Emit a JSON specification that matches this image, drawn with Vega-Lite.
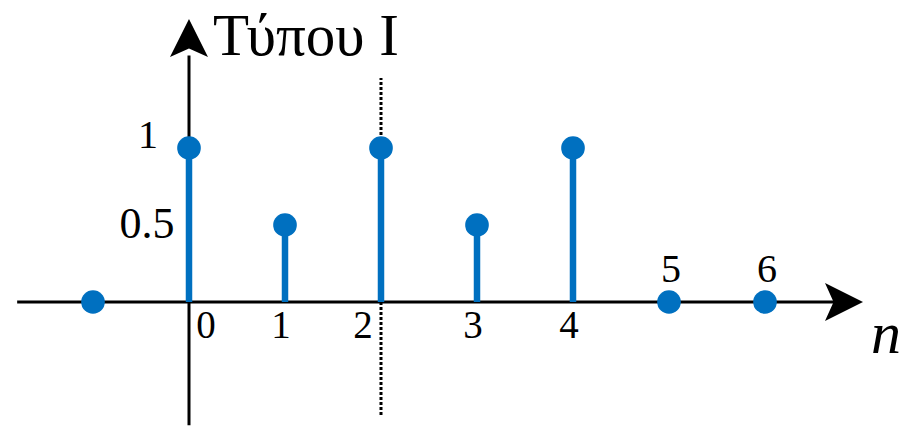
{
  "$schema": "https://vega.github.io/schema/vega-lite/v6.json",
  "width": 914,
  "height": 433,
  "autosize": {"type": "fit", "contains": "padding"},
  "padding": 0,
  "background": "white",
  "config": {"view": {"stroke": null}},
  "datasets": {
    "samples": [
      {"n": -1, "v": 0},
      {"n": 0, "v": 1},
      {"n": 1, "v": 0.5},
      {"n": 2, "v": 1},
      {"n": 3, "v": 0.5},
      {"n": 4, "v": 1},
      {"n": 5, "v": 0},
      {"n": 6, "v": 0}
    ],
    "axes": [
      {"n": -1.79, "n2": 6.73, "v": 0, "v2": 0},
      {"n": 0, "n2": 0, "v": -0.8, "v2": 1.6}
    ],
    "marker": [
      {"n": 2, "n2": 2, "v": -0.734, "v2": 1.4545}
    ],
    "heads": [
      {"n": 6.823, "v": 0, "dir": "right"},
      {"n": 0, "v": 1.714, "dir": "up"}
    ],
    "nlabels": [
      {"n": 0, "v": 0, "label": "0"},
      {"n": 1, "v": 0, "label": "1"},
      {"n": 2, "v": 0, "label": "2"},
      {"n": 3, "v": 0, "label": "3"},
      {"n": 4, "v": 0, "label": "4"},
      {"n": 5, "v": 0, "label": "5"},
      {"n": 6, "v": 0, "label": "6"}
    ],
    "vlabels": [
      {"n": 0, "v": 1, "label": "1"},
      {"n": 0, "v": 0.5, "label": "0.5"}
    ],
    "names": [
      {"n": 0, "v": 1.604, "label": "Τύπου Ι", "kind": "title"},
      {"n": 7.26, "v": -0.331, "label": "n", "kind": "var"}
    ]
  },
  "encoding": {
    "x": {"field": "n", "type": "quantitative", "axis": null,
          "scale": {"domain": [-1.96875, 7.5521], "nice": false, "zero": false}},
    "y": {"field": "v", "type": "quantitative", "axis": null,
          "scale": {"domain": [-0.8506, 1.961], "nice": false, "zero": false}}
  },
  "layer": [
    {
      "data": {"name": "axes"},
      "mark": {"type": "rule", "color": "black", "strokeWidth": 3},
      "encoding": {
        "x2": {"field": "n2"},
        "y2": {"field": "v2"}
      }
    },
    {
      "data": {"name": "marker"},
      "mark": {"type": "rule", "color": "black", "strokeWidth": 3, "strokeDash": [3, 2]},
      "encoding": {
        "x2": {"field": "n2"},
        "y2": {"field": "v2"}
      }
    },
    {
      "data": {"name": "heads"},
      "transform": [{"filter": "datum.dir === 'right'"}],
      "mark": {"type": "point", "filled": true, "color": "black", "opacity": 1,
               "shape": "M1,0L-1,-1L-0.55,0L-1,1Z", "size": 1444},
      "encoding": {}
    },
    {
      "data": {"name": "heads"},
      "transform": [{"filter": "datum.dir === 'up'"}],
      "mark": {"type": "point", "filled": true, "color": "black", "opacity": 1,
               "shape": "M0,-1L1,1L0,0.55L-1,1Z", "size": 1444},
      "encoding": {}
    },
    {
      "data": {"name": "samples"},
      "mark": {"type": "rule", "color": "#0070C0", "strokeWidth": 6.5},
      "encoding": {
        "y2": {"datum": 0}
      }
    },
    {
      "data": {"name": "samples"},
      "mark": {"type": "point", "filled": true, "shape": "circle", "color": "#0070C0", "opacity": 1, "size": 560},
      "encoding": {}
    },
    {
      "data": {"name": "nlabels"},
      "transform": [{"filter": "datum.n === 0"}],
      "mark": {"type": "text", "font": "Liberation Serif", "fontSize": 39, "color": "black",
               "align": "center", "baseline": "alphabetic", "dx": 17, "dy": 36},
      "encoding": {"text": {"field": "label"}}
    },
    {
      "data": {"name": "nlabels"},
      "transform": [{"filter": "datum.n === 2"}],
      "mark": {"type": "text", "font": "Liberation Serif", "fontSize": 39, "color": "black",
               "align": "center", "baseline": "alphabetic", "dx": -18, "dy": 36},
      "encoding": {"text": {"field": "label"}}
    },
    {
      "data": {"name": "nlabels"},
      "transform": [{"filter": "datum.n === 1 || datum.n === 3 || datum.n === 4"}],
      "mark": {"type": "text", "font": "Liberation Serif", "fontSize": 39, "color": "black",
               "align": "center", "baseline": "alphabetic", "dx": -4, "dy": 36},
      "encoding": {"text": {"field": "label"}}
    },
    {
      "data": {"name": "nlabels"},
      "transform": [{"filter": "datum.n >= 5"}],
      "mark": {"type": "text", "font": "Liberation Serif", "fontSize": 40, "color": "black",
               "align": "center", "baseline": "alphabetic", "dx": 2, "dy": -20},
      "encoding": {"text": {"field": "label"}}
    },
    {
      "data": {"name": "vlabels"},
      "transform": [{"filter": "datum.v === 1"}],
      "mark": {"type": "text", "font": "Liberation Serif", "fontSize": 40, "color": "black",
               "align": "center", "baseline": "alphabetic", "dx": -41, "dy": 0},
      "encoding": {"text": {"field": "label"}}
    },
    {
      "data": {"name": "vlabels"},
      "transform": [{"filter": "datum.v === 0.5"}],
      "mark": {"type": "text", "font": "Liberation Serif", "fontSize": 44, "color": "black",
               "align": "center", "baseline": "alphabetic", "dx": -42, "dy": 13},
      "encoding": {"text": {"field": "label"}}
    },
    {
      "data": {"name": "names"},
      "transform": [{"filter": "datum.kind === 'title'"}],
      "mark": {"type": "text", "font": "Liberation Serif", "fontSize": 59, "color": "black",
               "align": "left", "baseline": "alphabetic", "dx": 24},
      "encoding": {"text": {"field": "label"}}
    },
    {
      "data": {"name": "names"},
      "transform": [{"filter": "datum.kind === 'var'"}],
      "mark": {"type": "text", "font": "Liberation Serif", "fontStyle": "italic", "fontSize": 60, "color": "black",
               "align": "center", "baseline": "alphabetic"},
      "encoding": {"text": {"field": "label"}}
    }
  ]
}
